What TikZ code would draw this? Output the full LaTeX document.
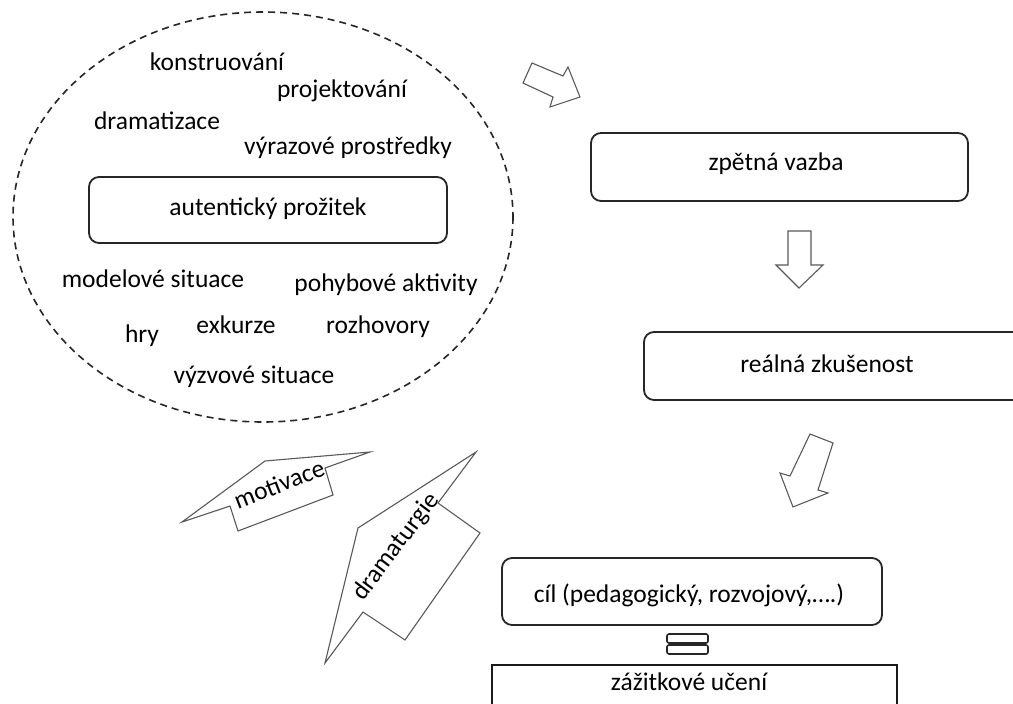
\documentclass[tikz,border=0pt]{standalone}
\usepackage{fontspec}
\setmainfont{Carlito}
\begin{document}
\begin{tikzpicture}[x=1pt,y=-1pt,
  every node/.style={font=\fontsize{25.5}{28}\selectfont, text=black},
  word/.style={inner sep=0pt, anchor=base},
  roundbox/.style={draw=black!85, line width=1.8pt, rounded corners=10pt},
  blockarrow/.style={draw=black!65, line width=1.1pt, fill=white, line join=miter},
  cloud/.style={draw=black!85, line width=1.6pt, dash pattern=on 7pt off 5pt}
]
\useasboundingbox (0,0) rectangle (1013,704);
\clip (0,0) rectangle (1013,704);

% dashed cloud of activities
\draw[cloud] (263,217) ellipse [x radius=250, y radius=205];

\draw[roundbox] (89,177) rectangle (447,243);
\node[word] (autentic) at (268,215) {autentický prožitek};

\node[word] (konstr) at (217,70) {konstruování};
\node[word] (projekt) at (342,97) {projektování};
\node[word] (dramat) at (157,129) {dramatizace};
\node[word] (vyraz) at (348,154) {výrazové prostředky};
\node[word] (model) at (153,287) {modelové situace};
\node[word] (pohyb) at (386,291) {pohybové aktivity};
\node[word] (hry) at (142,342) {hry};
\node[word] (exkurze) at (236,333) {exkurze};
\node[word] (rozhov) at (378,333) {rozhovory};
\node[word] (vyzva) at (254,383) {výzvové situace};

% right column of steps
\draw[roundbox] (591,133) rectangle (968,201);
\node[word] (zpetna) at (776,170) {zpětná vazba};

\draw[roundbox] (644,332) rectangle (1040,400);
\node[word] (realna) at (827,372) {reálná zkušenost};

\draw[roundbox] (502,558) rectangle (882,625);
\node[word] (cil) at (689,602) {cíl (pedagogický, rozvojový,….)};

% equality sign
\draw[draw=black!85, line width=1.6pt, rounded corners=2pt] (667,634) rectangle (708,643);
\draw[draw=black!85, line width=1.6pt, rounded corners=2pt] (667,645) rectangle (708,654);

\draw[draw=black!90, line width=2.4pt] (492,720) -- (492,665) -- (897,665) -- (897,720);
\node[word] (zazitek) at (689,690) {zážitkové učení};

% block arrows between the steps
\draw[blockarrow] (532,63) -- (523,83) -- (553,97) -- (550,107) -- (580,97) -- (568,67) -- (563,76) -- cycle;
\draw[blockarrow] (788,231) -- (811,231) -- (811,265) -- (823,265) -- (799,288) -- (776,265) -- (788,265) -- cycle;
\draw[blockarrow] (810,434) -- (833,443) -- (818,490) -- (828,493) -- (793,507) -- (780,473) -- (790,476) -- cycle;

% motivation and dramaturgy arrows
\draw[blockarrow] (182,522) -- (265,461) -- (370,452) -- (325,468) -- (333,495) -- (238,531) -- (230,506) -- cycle;
\node[inner sep=0pt, rotate=21] (motiv) at (279,484) {motivace};

\draw[blockarrow] (476,452) -- (438,503) -- (480,533) -- (405,640) -- (363,612) -- (325,663) -- (358,528) -- cycle;
\node[inner sep=0pt, rotate=53] (dramaturg) at (396,547) {dramaturgie};
\end{tikzpicture}
\end{document}
